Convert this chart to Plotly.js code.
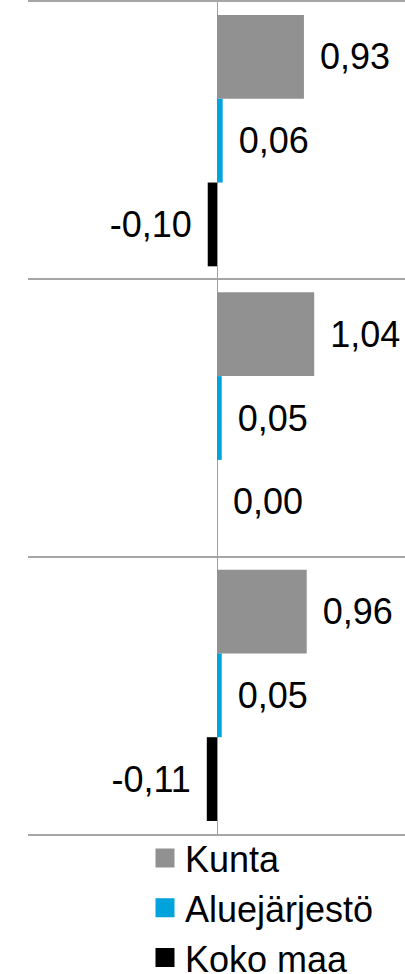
<!DOCTYPE html>
<html>
<head>
<meta charset="utf-8">
<script src="https://cdn.plot.ly/plotly-3.0.1.min.js"></script>
<style>html,body{margin:0;padding:0;background:#fff;}#chart{width:405px;height:974px;}</style>
</head>
<body>
<div id="chart"></div>
<script>
// Data
var categories = ["Ryhmä 1", "Ryhmä 2", "Ryhmä 3"];
var seriesNames = ["Kunta", "Aluejärjestö", "Koko maa"];
var kunta = [0.93, 1.04, 0.96];
var aluejarjesto = [0.06, 0.05, 0.05];
var kokoMaa = [-0.10, 0.00, -0.11];

var colors = ["#919191", "#00a3dc", "#000000"];
var seriesValues = [kunta, aluejarjesto, kokoMaa];

function fmt(v) {
  var s = v.toFixed(2).replace('.', ',');
  return v < 0 ? s + '\u00a0\u200a' : '\u00a0\u200a' + s;
}

var traces = [];
seriesValues.forEach(function (vals, i) {
  traces.push({
    type: 'bar',
    orientation: 'h',
    name: seriesNames[i],
    y: categories,
    x: vals,
    text: vals.map(fmt),
    textposition: 'outside',
    textfont: {family: 'Liberation Sans, Arial, sans-serif', size: 36, color: '#000'},
    constraintext: 'none',
    cliponaxis: false,
    marker: {color: colors[i]},
    showlegend: false,
    legendgroup: seriesNames[i],
    hoverinfo: 'none'
  });
});
seriesNames.forEach(function (name, i) {
  traces.push({
    type: 'scatter',
    mode: 'markers',
    name: name,
    legendgroup: name,
    x: [null],
    y: [null],
    marker: {symbol: 'square', size: 16, color: colors[i], line: {color: colors[i], width: 3}},
    showlegend: true,
    hoverinfo: 'none'
  });
});

var layout = {
  width: 405,
  height: 974,
  margin: {l: 28, r: 0, t: 2, b: 140, autoexpand: false},
  paper_bgcolor: '#fff',
  plot_bgcolor: '#fff',
  font: {family: 'Liberation Sans, Arial, sans-serif', size: 36, color: '#000'},
  barmode: 'group',
  bargap: 0.094,
  bargroupgap: 0,
  showlegend: true,
  legend: {
    orientation: 'v',
    xref: 'container', yref: 'container',
    x: 145 / 405, xanchor: 'left',
    y: 1 - 828 / 974, yanchor: 'top',
    font: {family: 'Liberation Sans, Arial, sans-serif', size: 36, color: '#000'},
    bgcolor: 'rgba(0,0,0,0)',
    tracegroupgap: 0
  },
  xaxis: {
    type: 'linear',
    autorange: false,
    range: [-2.024, 2.012],
    showgrid: false,
    showticklabels: false,
    ticks: '',
    zeroline: true,
    zerolinecolor: '#a0a0a0',
    zerolinewidth: 1,
    showline: true,
    mirror: true,
    linecolor: '#a6a6a6',
    linewidth: 2
  },
  yaxis: {
    type: 'category',
    autorange: false,
    range: [2.5, -0.5],
    tickson: 'boundaries',
    showgrid: true,
    gridcolor: '#a6a6a6',
    gridwidth: 2,
    showticklabels: false,
    ticks: '',
    zeroline: false,
    showline: false
  }
};

Plotly.newPlot('chart', traces, layout, {displayModeBar: false, staticPlot: true});
</script>
</body>
</html>
